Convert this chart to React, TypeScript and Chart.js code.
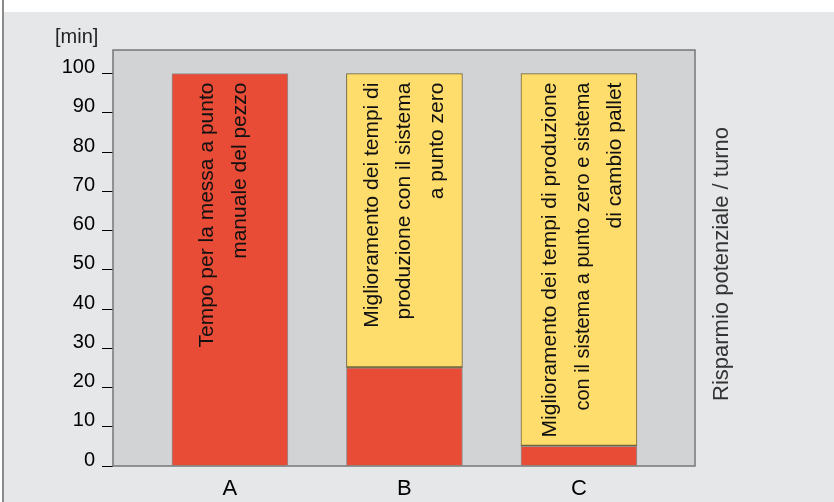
import React, { useEffect, useRef } from "react";
import { Chart, registerables } from "chart.js";

Chart.register(...registerables);

const categories = ["A", "B", "C"];
const baseValues = [100, 25, 5];
const improvementValues: (number | null)[] = [null, 75, 95];
const yTicks = [0, 10, 20, 30, 40, 50, 60, 70, 80, 90, 100];
const barTexts = [
  ["Tempo per la messa a punto", "manuale del pezzo"],
  ["Miglioramento dei tempi di", "produzione con il sistema", "a punto zero"],
  [
    "Miglioramento dei tempi di produzione",
    "con il sistema a punto zero e sistema",
    "di cambio pallet",
  ],
];
const yUnit = "[min]";
const sideLabel = "Risparmio potenziale / turno";

const FONT = '"Liberation Sans", Arial, Helvetica, sans-serif';
const TEXT_SHIFT = [-6, 0, 4];
const TEXT_MAXW = 328;

const decor = {
  id: "decor",
  beforeDraw(chart: any) {
    const { ctx, chartArea: a } = chart;
    ctx.save();
    ctx.fillStyle = "#d2d3d5";
    ctx.fillRect(a.left, a.top, a.right - a.left, a.bottom - a.top);
    ctx.restore();
  },
  afterDatasetsDraw(chart: any) {
    const { ctx, chartArea: a } = chart;
    const xs = chart.scales.x;
    const ys = chart.scales.y;
    ctx.save();
    ctx.strokeStyle = "#777777";
    ctx.lineWidth = 1.5;
    ctx.strokeRect(a.left, a.top, a.right - a.left, a.bottom - a.top);
    ctx.fillStyle = "#111111";
    ctx.font = `21px ${FONT}`;
    ctx.textAlign = "right";
    ctx.textBaseline = "middle";
    categories.forEach((_, i) => {
      const total = (baseValues[i] || 0) + (improvementValues[i] || 0);
      const cx = xs.getPixelForValue(i);
      const top = ys.getPixelForValue(total);
      const lines = barTexts[i];
      const n = lines.length;
      ctx.save();
      ctx.translate(cx + TEXT_SHIFT[i], top + 9);
      ctx.rotate(-Math.PI / 2);
      lines.forEach((line, j) => {
        const w = ctx.measureText(line).width;
        const y = (j - (n - 1) / 2) * 32.5;
        if (w > TEXT_MAXW && j > 0) ctx.fillText(line, 0, y, TEXT_MAXW);
        else ctx.fillText(line, 0, y);
      });
      ctx.restore();
    });
    ctx.restore();
  },
  afterDraw(chart: any) {
    const { ctx, chartArea: a } = chart;
    ctx.save();
    ctx.fillStyle = "#222222";
    ctx.font = `20px ${FONT}`;
    ctx.textAlign = "left";
    ctx.textBaseline = "middle";
    ctx.fillText(yUnit, 55, 37);
    ctx.translate(a.right + 27, 264);
    ctx.rotate(-Math.PI / 2);
    ctx.textAlign = "center";
    ctx.font = `22px ${FONT}`;
    ctx.fillStyle = "#333333";
    ctx.fillText(sideLabel, 0, 0);
    ctx.restore();
  },
};

export default function App() {
  const ref = useRef<HTMLCanvasElement | null>(null);

  useEffect(() => {
    if (!ref.current) return;
    const chart = new Chart(ref.current, {
      type: "bar",
      data: {
        datasets: [
          {
            label: "base",
            data: baseValues.map((v, i) => ({ x: i, y: v })),
            backgroundColor: "#e84c36",
            borderColor: "#8f8f8f",
            borderWidth: 1,
            stack: "s",
            barThickness: 116,
          },
          {
            label: "improvement",
            data: improvementValues.map((v, i) => ({ x: i, y: v })),
            backgroundColor: "#ffdd6c",
            borderColor: "#6f6538",
            borderWidth: { top: 1, left: 1, right: 1, bottom: 2 },
            borderSkipped: false,
            stack: "s",
            barThickness: 116,
          },
        ] as any,
      },
      options: {
        animation: false,
        responsive: false,
        layout: { padding: { left: 0, right: 139, top: 50, bottom: 0 } },
        plugins: { legend: { display: false }, tooltip: { enabled: false } },
        scales: {
          x: {
            type: "linear",
            min: -0.67,
            max: 2.665,
            offset: false,
            grid: { display: false, drawTicks: false, offset: false },
            border: { display: false },
            afterBuildTicks: (scale: any) => {
              scale.ticks = categories.map((_, i) => ({ value: i }));
            },
            afterFit: (scale: any) => {
              scale.height = 36;
            },
            ticks: {
              callback: (v: any) => categories[Math.round(Number(v))] ?? "",
              color: "#000",
              font: { size: 22, family: FONT },
              padding: 10,
              maxRotation: 0,
            },
          },
          y: {
            stacked: true,
            min: 0,
            max: 106,
            grid: {
              display: true,
              drawOnChartArea: false,
              drawTicks: true,
              tickLength: 11,
              color: "#000",
              lineWidth: 1,
            },
            border: { display: false },
            afterBuildTicks: (scale: any) => {
              scale.ticks = yTicks.map((v) => ({ value: v }));
            },
            afterFit: (scale: any) => {
              scale.width = 113;
            },
            ticks: {
              color: "#000",
              font: { size: 20, family: FONT },
              padding: 7,
              labelOffset: -6,
            },
          },
        },
      } as any,
      plugins: [decor],
    });
    return () => chart.destroy();
  }, []);

  return (
    <div style={{ position: "absolute", left: 0, top: 0, width: 834, height: 502, background: "#ffffff", overflow: "hidden" }}>
      <div style={{ position: "absolute", left: 4, top: 12, right: 0, bottom: 0, background: "#e6e7e9" }} />
      <div style={{ position: "absolute", left: 2, top: 0, width: 2, height: 502, background: "#8a8a8a" }} />
      <canvas ref={ref} width={834} height={502} style={{ position: "absolute", left: 0, top: 0, width: 834, height: 502 }} />
    </div>
  );
}
